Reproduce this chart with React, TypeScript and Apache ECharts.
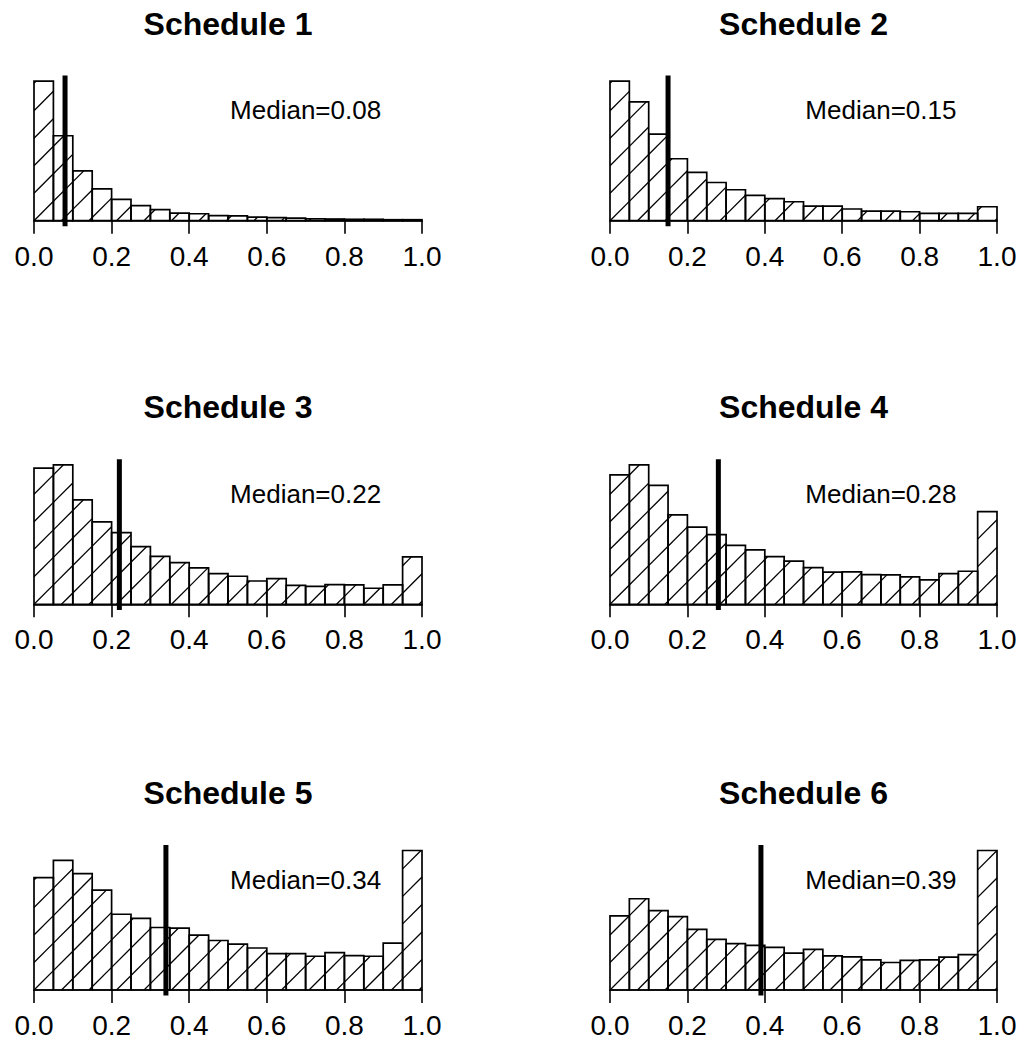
import React, { useEffect, useRef } from "react";
import * as echarts from "echarts";

// ---------- data ----------
const binStarts = [
  0.0, 0.05, 0.1, 0.15, 0.2, 0.25, 0.3, 0.35, 0.4, 0.45,
  0.5, 0.55, 0.6, 0.65, 0.7, 0.75, 0.8, 0.85, 0.9, 0.95,
];
const BIN_WIDTH = 0.05;

const titles = ["Schedule 1", "Schedule 2", "Schedule 3", "Schedule 4", "Schedule 5", "Schedule 6"];
const medians = [0.08, 0.15, 0.22, 0.28, 0.34, 0.39];
const medianLabels = ["Median=0.08", "Median=0.15", "Median=0.22", "Median=0.28", "Median=0.34", "Median=0.39"];

const schedule1 = [100, 60.9, 35.7, 22.8, 15.3, 10.8, 7.9, 5.5, 5.0, 3.6, 3.4, 2.6, 2.2, 1.9, 1.4, 1.2, 1.0, 1.0, 0.7, 0.7];
const schedule2 = [100, 85.2, 62.1, 44.4, 34.6, 27.4, 22.2, 18.1, 15.8, 13.6, 10.5, 10.5, 8.4, 6.9, 6.9, 6.4, 5.3, 5.3, 5.3, 10.0];
const schedule3 = [97.6, 100, 74.9, 59.1, 51.4, 41.4, 34.4, 29.9, 26.1, 22.0, 20.1, 16.7, 18.4, 13.6, 12.9, 14.1, 13.9, 11.5, 13.9, 34.0];
const schedule4 = [92.8, 100, 85.2, 64.1, 55.3, 50.0, 42.3, 39.0, 34.2, 30.9, 26.3, 23.0, 23.2, 21.3, 21.1, 19.6, 17.5, 22.0, 23.7, 66.5];
const schedule5 = [80.6, 92.9, 83.4, 71.6, 54.3, 51.4, 44.8, 44.3, 39.3, 35.5, 32.9, 30.1, 26.1, 26.1, 24.2, 26.8, 24.6, 24.2, 33.6, 100];
const schedule6 = [53.1, 65.4, 56.9, 52.6, 43.4, 36.3, 33.2, 32.0, 30.6, 26.5, 29.1, 24.4, 23.7, 21.6, 19.7, 21.3, 21.6, 23.5, 25.4, 100];

const allSchedules = [schedule1, schedule2, schedule3, schedule4, schedule5, schedule6];

// ---------- layout ----------
const COL_LEFT = [34, 610];
const COL_WIDTH = [388, 387];
const ROW_BASE = [220.7, 604.3, 990];
const DATA_PX = 139.5; // pixel height of the tallest bar
const EXT = 0.04; // R-style axis extension
const TITLE_OFFSET = 197;
const FONT = '"Liberation Sans", Arial, Helvetica, sans-serif';
const HATCH = 27.5;

function buildOption() {
  const grid: any[] = [];
  const xAxis: any[] = [];
  const yAxis: any[] = [];
  const series: any[] = [];
  const graphic: any[] = [];

  allSchedules.forEach((vals, i) => {
    const row = Math.floor(i / 2);
    const col = i % 2;
    const M = Math.max(...vals);
    const base = ROW_BASE[row];
    const gridHeight = DATA_PX * (1 + 2 * EXT);
    grid.push({
      left: COL_LEFT[col],
      width: COL_WIDTH[col],
      top: base - DATA_PX * (1 + EXT),
      height: gridHeight,
      containLabel: false,
      outerBoundsMode: "none",
    });
    xAxis.push({
      gridIndex: i,
      type: "value",
      min: 0,
      max: 1,
      interval: 0.2,
      splitLine: { show: false },
      axisLine: { show: true, onZero: true, lineStyle: { color: "#000", width: 1.6 } },
      axisTick: { show: true, length: 13, inside: false, lineStyle: { color: "#000", width: 1.6 } },
      axisLabel: {
        show: true,
        fontSize: 28,
        lineHeight: 28,
        color: "#000",
        fontFamily: FONT,
        margin: 16,
        formatter: (v: number) => v.toFixed(1),
        hideOverlap: false,
        showMinLabel: true,
        showMaxLabel: true,
      },
    });
    yAxis.push({
      gridIndex: i,
      type: "value",
      min: -EXT * M,
      max: (1 + EXT) * M,
      show: false,
      splitLine: { show: false },
    });

    series.push({
      type: "custom",
      xAxisIndex: i,
      yAxisIndex: i,
      silent: true,
      data: vals.map((v, j) => [binStarts[j], binStarts[j] + BIN_WIDTH, v]),
      encode: { x: [0, 1], y: 2 },
      renderItem: (params: any, api: any) => {
        const x0 = api.value(0);
        const x1 = api.value(1);
        const h = api.value(2);
        const p0 = api.coord([x0, 0]);
        const p1 = api.coord([x1, h]);
        const origin = api.coord([0, 0]);
        const rx0 = p0[0];
        const rx1 = p1[0];
        const ry0 = p1[1];
        const ry1 = p0[1];
        const c0 = origin[0] + origin[1];
        const children: any[] = [];
        const kStart = Math.ceil((rx0 + ry0 - c0) / HATCH);
        const kEnd = Math.floor((rx1 + ry1 - c0) / HATCH);
        for (let k = kStart; k <= kEnd; k++) {
          const c = c0 + k * HATCH;
          const xa = Math.max(rx0, c - ry1);
          const xb = Math.min(rx1, c - ry0);
          if (xb > xa + 0.3) {
            children.push({
              type: "line",
              shape: { x1: xa, y1: c - xa, x2: xb, y2: c - xb },
              style: { stroke: "#000", lineWidth: 1.3 },
            });
          }
        }
        children.push({
          type: "rect",
          shape: { x: rx0, y: ry0, width: rx1 - rx0, height: ry1 - ry0 },
          style: { fill: "none", stroke: "#000", lineWidth: 1.7 },
        });
        return { type: "group", children };
      },
    });

    series.push({
      type: "custom",
      xAxisIndex: i,
      yAxisIndex: i,
      silent: true,
      data: [[medians[i], M]],
      renderItem: (params: any, api: any) => {
        const m = api.value(0);
        const mx = api.value(1);
        const top = api.coord([m, (1 + EXT) * mx]);
        const bot = api.coord([m, -EXT * mx]);
        const tp = api.coord([0.7, 0.79 * mx]);
        return {
          type: "group",
          children: [
            {
              type: "line",
              shape: { x1: top[0], y1: top[1], x2: bot[0], y2: bot[1] },
              style: { stroke: "#000", lineWidth: 5 },
            },
            {
              type: "text",
              x: tp[0],
              y: tp[1],
              style: {
                text: medianLabels[i],
                fill: "#000",
                fontSize: 26,
                fontFamily: FONT,
                textAlign: "center",
                textVerticalAlign: "middle",
                align: "center",
                verticalAlign: "middle",
              },
            },
          ],
        };
      },
    });

    graphic.push({
      type: "text",
      x: COL_LEFT[col] + COL_WIDTH[col] / 2,
      y: base - TITLE_OFFSET,
      style: {
        text: titles[i],
        fill: "#000",
        fontSize: 32,
        fontWeight: "bold",
        fontFamily: FONT,
        textAlign: "center",
        textVerticalAlign: "middle",
        align: "center",
        verticalAlign: "middle",
      },
    });
  });

  return {
    animation: false,
    backgroundColor: "#ffffff",
    grid,
    xAxis,
    yAxis,
    series,
    graphic,
  };
}

export default function App() {
  const ref = useRef<HTMLDivElement>(null);
  useEffect(() => {
    if (!ref.current) return;
    const chart = echarts.init(ref.current, null, { renderer: "svg" });
    chart.setOption(buildOption() as any);
    return () => chart.dispose();
  }, []);
  return (
    <div
      ref={ref}
      style={{ position: "absolute", left: 0, top: 0, width: 1027, height: 1041, background: "#fff" }}
    />
  );
}
